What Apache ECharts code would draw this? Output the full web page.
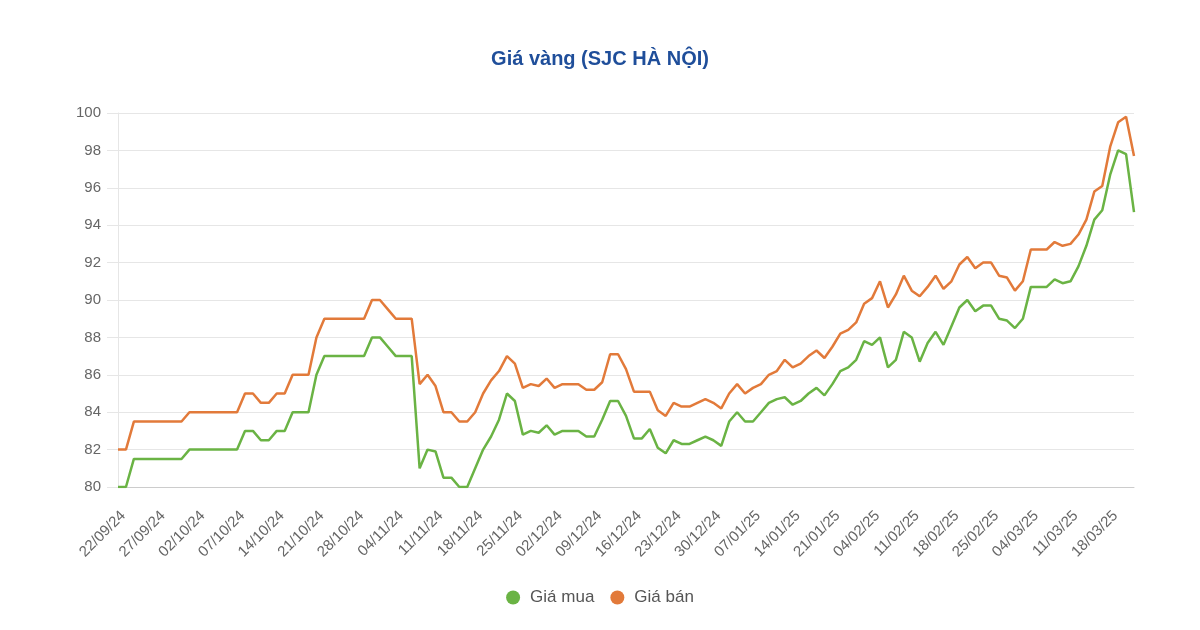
<!DOCTYPE html>
<html>
<head>
<meta charset="utf-8">
<script src="https://cdn.jsdelivr.net/npm/echarts@6/dist/echarts.min.js"></script>
<style>
  html, body { margin: 0; padding: 0; background: #fff; }
  #chart { width: 1200px; height: 630px; }
</style>
</head>
<body>
<div id="chart"></div>
<script>
// ngày giao dịch (trục x)
var dates = [
  '22/09/24','23/09/24','24/09/24','25/09/24','26/09/24','27/09/24','28/09/24','29/09/24','30/09/24','01/10/24',
  '02/10/24','03/10/24','04/10/24','05/10/24','06/10/24','07/10/24','08/10/24','09/10/24','10/10/24','11/10/24',
  '14/10/24','15/10/24','16/10/24','17/10/24','18/10/24','21/10/24','22/10/24','23/10/24','24/10/24','25/10/24',
  '28/10/24','29/10/24','30/10/24','31/10/24','01/11/24','04/11/24','05/11/24','06/11/24','07/11/24','08/11/24',
  '11/11/24','12/11/24','13/11/24','14/11/24','15/11/24','18/11/24','19/11/24','20/11/24','21/11/24','22/11/24',
  '25/11/24','26/11/24','27/11/24','28/11/24','29/11/24','02/12/24','03/12/24','04/12/24','05/12/24','06/12/24',
  '09/12/24','10/12/24','11/12/24','12/12/24','13/12/24','16/12/24','17/12/24','18/12/24','19/12/24','20/12/24',
  '23/12/24','24/12/24','25/12/24','26/12/24','27/12/24','30/12/24','31/12/24','02/01/25','03/01/25','06/01/25',
  '07/01/25','08/01/25','09/01/25','10/01/25','13/01/25','14/01/25','15/01/25','16/01/25','17/01/25','20/01/25',
  '21/01/25','22/01/25','23/01/25','24/01/25','03/02/25','04/02/25','05/02/25','06/02/25','07/02/25','10/02/25',
  '11/02/25','12/02/25','13/02/25','14/02/25','17/02/25','18/02/25','19/02/25','20/02/25','21/02/25','24/02/25',
  '25/02/25','26/02/25','27/02/25','28/02/25','03/03/25','04/03/25','05/03/25','06/03/25','07/03/25','10/03/25',
  '11/03/25','12/03/25','13/03/25','14/03/25','17/03/25','18/03/25','19/03/25','20/03/25','21/03/25'
];

// Giá mua
var giaMua = [
  80, 80, 81.5, 81.5, 81.5, 81.5, 81.5, 81.5, 81.5, 82,
  82, 82, 82, 82, 82, 82, 83, 83, 82.5, 82.5,
  83, 83, 84, 84, 84, 86, 87, 87, 87, 87,
  87, 87, 88, 88, 87.5, 87, 87, 87, 81, 82,
  81.9, 80.5, 80.5, 80, 80, 81, 82, 82.7, 83.6, 85,
  84.6, 82.8, 83, 82.9, 83.3, 82.8, 83, 83, 83, 82.7,
  82.7, 83.6, 84.6, 84.6, 83.8, 82.6, 82.6, 83.1, 82.1, 81.8,
  82.5, 82.3, 82.3, 82.5, 82.7, 82.5, 82.2, 83.5, 84, 83.5,
  83.5, 84, 84.5, 84.7, 84.8, 84.4, 84.6, 85, 85.3, 84.9,
  85.5, 86.2, 86.4, 86.8, 87.8, 87.6, 88, 86.4, 86.8, 88.3,
  88, 86.7, 87.7, 88.3, 87.6, 88.6, 89.6, 90, 89.4, 89.7,
  89.7, 89, 88.9, 88.5, 89, 90.7, 90.7, 90.7, 91.1, 90.9,
  91, 91.8, 92.9, 94.3, 94.8, 96.7, 98, 97.8, 94.7
];

// Giá bán
var giaBan = [
  82, 82, 83.5, 83.5, 83.5, 83.5, 83.5, 83.5, 83.5, 84,
  84, 84, 84, 84, 84, 84, 85, 85, 84.5, 84.5,
  85, 85, 86, 86, 86, 88, 89, 89, 89, 89,
  89, 89, 90, 90, 89.5, 89, 89, 89, 85.5, 86,
  85.4, 84, 84, 83.5, 83.5, 84, 85, 85.7, 86.2, 87,
  86.6, 85.3, 85.5, 85.4, 85.8, 85.3, 85.5, 85.5, 85.5, 85.2,
  85.2, 85.6, 87.1, 87.1, 86.3, 85.1, 85.1, 85.1, 84.1, 83.8,
  84.5, 84.3, 84.3, 84.5, 84.7, 84.5, 84.2, 85, 85.5, 85,
  85.3, 85.5, 86, 86.2, 86.8, 86.4, 86.6, 87, 87.3, 86.9,
  87.5, 88.2, 88.4, 88.8, 89.8, 90.1, 91, 89.6, 90.3, 91.3,
  90.5, 90.2, 90.7, 91.3, 90.6, 91, 91.9, 92.3, 91.7, 92,
  92, 91.3, 91.2, 90.5, 91, 92.7, 92.7, 92.7, 93.1, 92.9,
  93, 93.5, 94.3, 95.8, 96.1, 98.2, 99.5, 99.8, 97.7
];

var font = '"Liberation Sans", Arial, Helvetica, sans-serif';

var chart = echarts.init(document.getElementById('chart'));
chart.setOption({
  backgroundColor: '#fff',
  animation: false,
  title: {
    text: 'Giá vàng (SJC HÀ NỘI)',
    left: 'center',
    top: 44,
    textStyle: { color: '#1f4e9a', fontSize: 20, fontWeight: 'bold', fontFamily: font }
  },
  legend: {
    top: 584,
    left: 'center',
    icon: 'circle',
    itemWidth: 14,
    itemHeight: 14,
    itemGap: 16,
    textStyle: { color: '#555', fontSize: 17, fontFamily: font, padding: [0, 0, 0, 5] },
    data: ['Giá mua', 'Giá bán']
  },
  grid: { left: 118, right: 66, top: 113, bottom: 143, containLabel: false },
  xAxis: {
    type: 'category',
    boundaryGap: false,
    data: dates,
    axisLine: { lineStyle: { color: '#ccc' } },
    axisTick: { show: false },
    axisLabel: {
      interval: 4,
      rotate: 45,
      margin: 21,
      verticalAlign: 'top',
      color: '#666',
      fontSize: 15,
      fontFamily: font
    }
  },
  yAxis: {
    type: 'value',
    min: 80,
    max: 100,
    interval: 2,
    axisLine: { show: true, lineStyle: { color: '#e6e6e6' } },
    axisTick: { show: true, length: 11, lineStyle: { color: '#e6e6e6' } },
    splitLine: { lineStyle: { color: '#e6e6e6', width: 1 } },
    axisLabel: { color: '#666', fontSize: 15, margin: 17, fontFamily: font }
  },
  series: [
    {
      name: 'Giá mua',
      type: 'line',
      data: giaMua,
      symbol: 'none',
      color: '#6ab344',
      lineStyle: { width: 2.5, color: '#6ab344' }
    },
    {
      name: 'Giá bán',
      type: 'line',
      data: giaBan,
      symbol: 'none',
      color: '#e27a3a',
      lineStyle: { width: 2.5, color: '#e27a3a' }
    }
  ]
});
</script>
</body>
</html>
